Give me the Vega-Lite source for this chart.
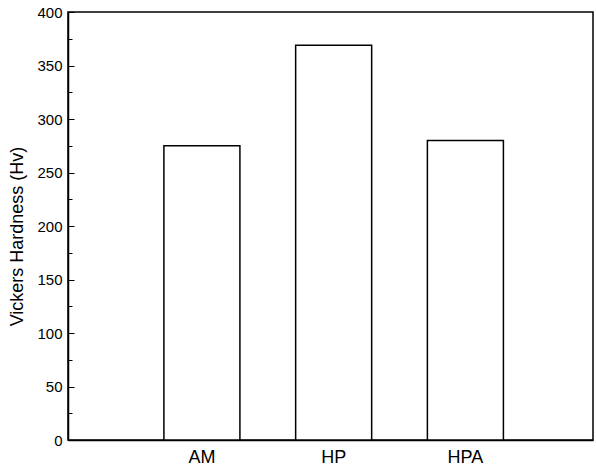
{
  "$schema": "https://vega.github.io/schema/vega-lite/v6.json",
  "autosize": "none",
  "width": 525,
  "height": 428,
  "padding": {"left": 68, "top": 12, "right": 3, "bottom": 30},
  "background": "white",
  "config": {
    "view": {"stroke": "black", "strokeWidth": 1.5},
    "font": "Liberation Sans"
  },
  "data": {
    "values": [
      {"sample": "AM", "hardness": 275},
      {"sample": "HP", "hardness": 369},
      {"sample": "HPA", "hardness": 280}
    ]
  },
  "mark": {"type": "bar", "fill": "white", "stroke": "black", "strokeWidth": 1.5},
  "encoding": {
    "x": {
      "field": "sample",
      "type": "nominal",
      "sort": null,
      "scale": {"paddingInner": 0.423, "paddingOuter": 0.704, "align": 0.517},
      "axis": {
        "title": null,
        "labelAngle": 0,
        "labelFontSize": 18,
        "labelColor": "black",
        "labelPadding": 8,
        "ticks": false,
        "domainColor": "black",
        "domainWidth": 1.5
      }
    },
    "y": {
      "field": "hardness",
      "type": "quantitative",
      "scale": {"domain": [0, 400], "nice": false},
      "axis": {
        "title": "Vickers Hardness (Hv)",
        "titleFontSize": 18,
        "titleFontWeight": "normal",
        "titleColor": "black",
        "titleY": 224,
        "titlePadding": 10,
        "values": [0, 25, 50, 75, 100, 125, 150, 175, 200, 225, 250, 275, 300, 325, 350, 375, 400],
        "labelExpr": "datum.value % 50 === 0 ? datum.value : ''",
        "labelFontSize": 15,
        "labelColor": "black",
        "labelPadding": 12,
        "tickSize": {"condition": {"test": "datum.value % 50 === 0", "value": -6}, "value": -4},
        "tickColor": "black",
        "tickWidth": 1,
        "domainColor": "black",
        "domainWidth": 1.5,
        "grid": false
      }
    }
  }
}
